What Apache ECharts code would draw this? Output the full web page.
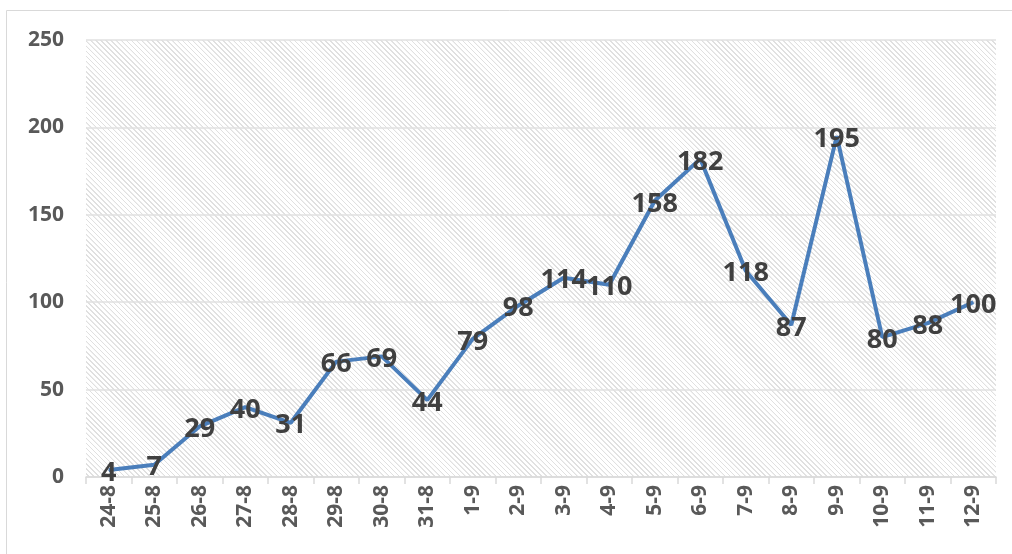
<!DOCTYPE html>
<html><head><meta charset="utf-8">
<script src="https://cdn.jsdelivr.net/npm/echarts@6/dist/echarts.min.js"></script>
<style>
html,body{margin:0;padding:0;background:#fff}
#wrap{position:relative;width:1012px;height:554px}
#hatch{position:absolute;left:86px;top:40px;width:910px;height:437px;
  background:repeating-linear-gradient(45deg,#ffffff 0px,#ffffff 1.8px,#e0e0e0 2px,#e0e0e0 2.9px,#ffffff 3.1px,#ffffff 3.6px)}
#c{position:absolute;left:0;top:0;width:1012px;height:554px}
</style>
</head><body><div id="wrap"><div id="hatch"></div><div id="c"></div></div>
<script>
const categories = ['24-8','25-8','26-8','27-8','28-8','29-8','30-8','31-8','1-9','2-9','3-9','4-9','5-9','6-9','7-9','8-9','9-9','10-9','11-9','12-9'];
const values = [4,7,29,40,31,66,69,44,79,98,114,110,158,182,118,87,195,80,88,100];
const yTicks = [0,50,100,150,200,250];

const FONT = '"Open Sans", "Liberation Sans", sans-serif';
const chart = echarts.init(document.getElementById('c'), null, {renderer: 'canvas'});
chart.setOption({
  animation: false,
  backgroundColor: 'transparent',
  graphic: [{type: 'rect', shape: {x: 6.5, y: 10.5, width: 1030, height: 580}, style: {fill: 'none', stroke: '#d9d9d9', lineWidth: 1}, silent: true}],
  grid: {left: 86, right: 16, top: 40, bottom: 77, show: false},
  xAxis: {
    type: 'category', data: categories, boundaryGap: true,
    axisLine: {lineStyle: {color: '#d9d9d9', width: 1.5}},
    axisTick: {show: true, length: 7, lineStyle: {color: '#d9d9d9', width: 1.5}},
    axisLabel: {rotate: 90, color: '#595959', fontFamily: FONT, fontWeight: 700, fontSize: 21, margin: 8, interval: 0}
  },
  yAxis: {
    type: 'value', min: yTicks[0], max: yTicks[yTicks.length - 1], interval: 50,
    axisLine: {show: false}, axisTick: {show: false},
    splitLine: {lineStyle: {color: '#e0e0e0', width: 1.5}},
    axisLabel: {color: '#595959', fontFamily: FONT, fontWeight: 700, fontSize: 21, margin: 22}
  },
  series: [{
    type: 'line', data: values, symbol: 'circle', symbolSize: 1,
    itemStyle: {color: '#4a7ebb'},
    lineStyle: {color: '#4a7ebb', width: 4},
    label: {show: true, position: 'top', distance: 0, offset: [0, 17], color: '#404040', fontFamily: FONT, fontWeight: 700, fontSize: 27}
  }]
});
</script></body></html>
